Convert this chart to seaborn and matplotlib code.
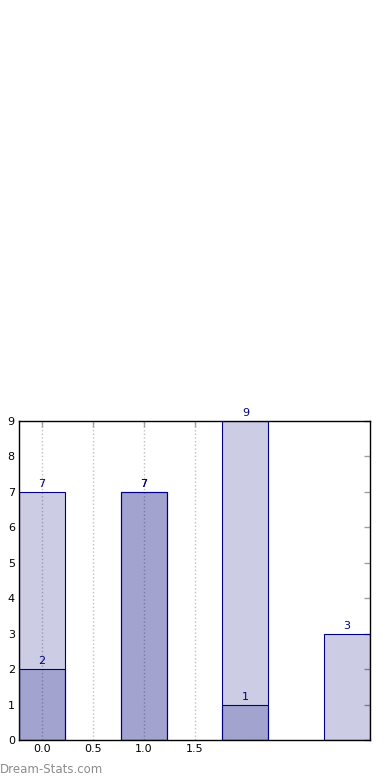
import numpy as np
import pandas as pd
import matplotlib
matplotlib.use("Agg")
import matplotlib.pyplot as plt
import seaborn as sns

# data
light_pos = [0, 1, 2, 3]
light_vals = [7, 7, 9, 3]
dark_pos = [0, 1, 2]
dark_vals = [2, 7, 1]
x_ticks = [0.0, 0.5, 1.0, 1.5]
x_tick_labels = ["0.0", "0.5", "1.0", "1.5"]
y_ticks = list(range(0, 10))

sns.set_style("white")
plt.rcParams['font.family'] = ['DejaVu Sans']

fig = plt.figure(figsize=(3.9, 7.8), dpi=100)
ax = fig.add_axes([19 / 390, 40 / 780, 351 / 390, 319 / 780])

df_light = pd.DataFrame({"pos": light_pos, "val": light_vals})
df_dark = pd.DataFrame({"pos": dark_pos, "val": dark_vals})

sns.barplot(data=df_light, x="pos", y="val", native_scale=True, width=0.45,
            color="navy", ax=ax, zorder=2)
sns.barplot(data=df_dark, x="pos", y="val", native_scale=True, width=0.45,
            color="navy", ax=ax, zorder=3)

for p in ax.patches:
    p.set_facecolor((0, 0, 0.5, 0.2))
    p.set_edgecolor("navy")
    p.set_linewidth(0.8)

# value labels
for x, v in zip(light_pos, light_vals):
    ax.text(x, v + 0.08, str(v), ha="center", va="bottom", fontsize=8, color="navy")
for x, v in zip(dark_pos, dark_vals):
    ax.text(x, v + 0.08, str(v), ha="center", va="bottom", fontsize=8, color="navy")

ax.set_xlim(-0.225, 3.225)
ax.set_ylim(0, 9)
ax.set_xticks(x_ticks)
ax.set_xticklabels(x_tick_labels)
ax.set_yticks(y_ticks)
ax.set_xlabel("")
ax.set_ylabel("")

ax.xaxis.grid(True, linestyle=":", color="#c0c0c0", linewidth=1.0, zorder=0)
ax.yaxis.grid(False)
ax.set_axisbelow(True)
ax.tick_params(axis="both", direction="in", length=4, width=1, color="#a0a0a0",
               labelsize=8, labelcolor="black", top=True, right=True, pad=3)

for s in ax.spines.values():
    s.set_visible(True)
    s.set_color("black")
    s.set_linewidth(1.0)

fig.text(0.0, 4 / 780, "Dream-Stats.com", fontsize=8.5, color="#8c8c8c",
         ha="left", va="bottom")

fig.savefig("out.png", dpi=100)
